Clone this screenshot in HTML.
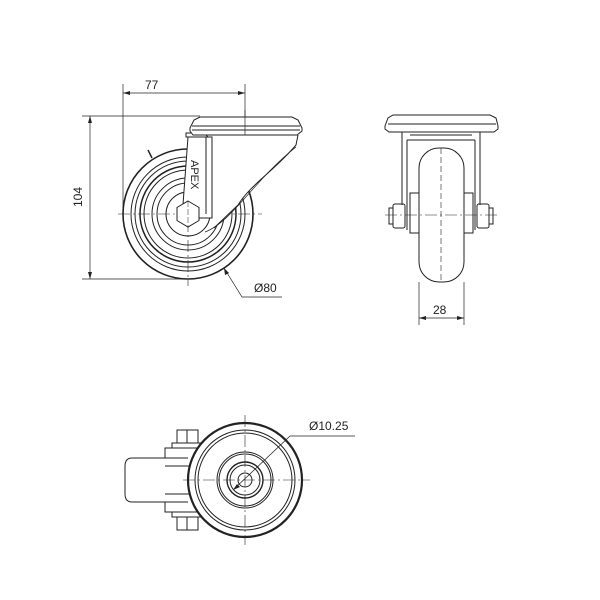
<!DOCTYPE html>
<html><head><style>body{margin:0;background:#fff}svg{display:block}</style></head><body>
<svg width="600" height="600" viewBox="0 0 600 600" xmlns="http://www.w3.org/2000/svg" font-family="Liberation Sans, sans-serif">
<rect width="600" height="600" fill="#fff"/>
<g fill="none" stroke="#222" stroke-width="1">
<line x1="123" y1="84" x2="123" y2="214" stroke-width="0.7"/>
<line x1="245" y1="84" x2="245" y2="135" stroke-width="0.7"/>
<line x1="123" y1="93" x2="245" y2="93" stroke-width="0.7"/>
<line x1="82" y1="116" x2="200" y2="116" stroke-width="0.7"/>
<line x1="82" y1="279" x2="190" y2="279" stroke-width="0.7"/>
<line x1="90" y1="116" x2="90" y2="279" stroke-width="0.7"/>
<path d="M224 268 L242 297 L282 297" stroke-width="0.7"/>
<line x1="148" y1="150" x2="152" y2="158" stroke-width="1.5"/>
<circle cx="188" cy="214" r="65" stroke-width="1.6"/>
<circle cx="188" cy="214" r="57"/>
<circle cx="188" cy="214" r="53"/>
<circle cx="188" cy="214" r="48" stroke-width="1.5"/>
<circle cx="188" cy="214" r="44"/>
<circle cx="188" cy="214" r="36"/>
<circle cx="188" cy="214" r="31"/>
<circle cx="188" cy="214" r="22"/>
<line x1="118" y1="214" x2="262" y2="214" stroke-width="0.6" stroke-dasharray="12,3,2,3"/>
<line x1="188" y1="140" x2="188" y2="286" stroke-width="0.6" stroke-dasharray="12,3,2,3"/>
<!-- arm (white fill) -->
<path d="M212 137 L298 135 L296 145 C275 170 250 185 238 205 L214 228 L212 228 Z" fill="#fff" stroke="none"/>
<path d="M298 135 L296 145 C275 170 250 185 238 205 L214 228"/>
<path d="M205 232 C 232 222 254 180 296 147" stroke-width="0.7"/>
<!-- leg -->
<path d="M188 137 L212 137 L212 218 L182 218 Z" fill="#fff"/>
<line x1="206" y1="137" x2="206" y2="214"/>
<path d="M186 137 L186 133 L204 133 L208 137 Z" fill="#fff"/>
<polygon points="188,201 199,207.5 199,220.5 188,227 177,220.5 177,207.5" fill="#fff"/>
<line x1="188" y1="201" x2="188" y2="227" stroke-width="0.5" stroke-dasharray="6,2"/>
<!-- plate -->
<path d="M190 128 L194 120 L200 117 L292 117 L298 120 L302 128 L302 131 L297 135 L193 135 L190 131 Z" fill="#fff"/>
<line x1="192" y1="126" x2="300" y2="126"/>
<line x1="192" y1="130" x2="300" y2="130"/>
<line x1="245" y1="110" x2="245" y2="135" stroke-width="0.7"/>
<!-- front view -->
<path d="M385 126 L388 118 L393 115 L490 115 L496 118 L498 126 L498 129 L494 132 L389 132 L385 129 Z"/>
<line x1="388" y1="124" x2="496" y2="124"/>
<path d="M402 132 L402 205 M480 132 L480 205 M407 140 L407 230 M475 140 L475 230 M407 140 L475 140 M410 135 L472 135"/>
<rect x="419" y="148" width="45" height="134" rx="20"/>
<rect x="410" y="193" width="9" height="40"/>
<rect x="464" y="193" width="9" height="40"/>
<rect x="393" y="204" width="12" height="24" rx="2"/>
<rect x="477" y="204" width="12" height="24" rx="2"/>
<rect x="389" y="208" width="4" height="16"/>
<rect x="489" y="208" width="4" height="16"/>
<line x1="441" y1="148" x2="441" y2="282" stroke-width="0.6" stroke-dasharray="6,3"/>
<line x1="385" y1="215" x2="498" y2="215" stroke-width="0.6" stroke-dasharray="12,3,2,3"/>
<line x1="419" y1="282" x2="419" y2="325" stroke-width="0.7"/>
<line x1="464" y1="282" x2="464" y2="325" stroke-width="0.7"/>
<line x1="419" y1="318" x2="464" y2="318" stroke-width="0.7"/>
<!-- bottom view -->
<path d="M188 458 L132 458 Q125 458 125 466 L125 494 Q125 502 132 502 L188 502"/>
<path d="M165 458 L165 448 L190 448 M165 502 L165 512 L190 512 M165 466 L190 466 M165 494 L190 494"/>
<rect x="172" y="443" width="31" height="5"/>
<rect x="177" y="430" width="21" height="13"/>
<line x1="187" y1="430" x2="187" y2="443"/>
<rect x="172" y="512" width="31" height="5"/>
<rect x="177" y="517" width="21" height="13"/>
<line x1="187" y1="517" x2="187" y2="530"/>
<circle cx="245" cy="480" r="57" stroke-width="2.2" fill="#fff"/>
<circle cx="245" cy="480" r="50"/>
<circle cx="245" cy="480" r="47"/>
<circle cx="245" cy="480" r="28"/>
<circle cx="245" cy="480" r="26"/>
<circle cx="245" cy="480" r="18" stroke-width="1.4"/>
<circle cx="245" cy="480" r="15"/>
<circle cx="245" cy="480" r="7"/>
<line x1="183" y1="480" x2="310" y2="480" stroke-width="0.6" stroke-dasharray="12,3,2,3"/>
<line x1="245" y1="415" x2="245" y2="545" stroke-width="0.6" stroke-dasharray="12,3,2,3"/>
<path d="M233 490 L290 436 L355 436" stroke-width="0.7"/>
</g>
<g fill="#222">
<polygon points="123,93 130,91 130,95"/><polygon points="245,93 238,91 238,95"/>
<polygon points="90,116 88,123 92,123"/><polygon points="90,279 88,272 92,272"/>
<polygon points="419,318 426,316 426,320"/><polygon points="464,318 457,316 457,320"/>
<polygon points="224,268 225,275 229,273"/>
<polygon points="233,490 240,487 237,484"/>
</g>
<g font-size="12" fill="#222">
<text x="145" y="89">77</text>
<text x="82" y="197" transform="rotate(-90 82 197)" text-anchor="middle">104</text>
<text x="254" y="292">Ø80</text>
<text x="433" y="314">28</text>
<text x="309" y="430">Ø10.25</text>
<text x="0" y="0" font-size="11" transform="translate(191 160) rotate(90)">APEX</text>
</g>
</svg>
</body></html>
